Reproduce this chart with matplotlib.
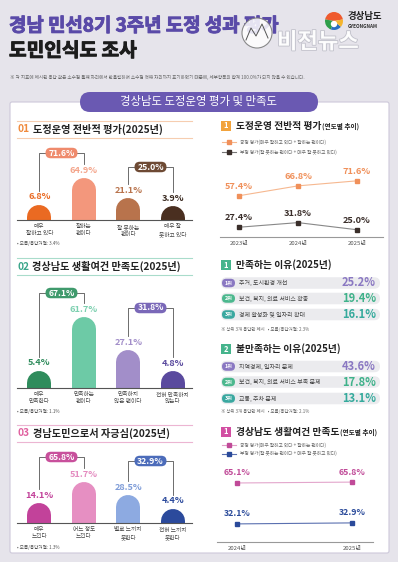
import matplotlib
matplotlib.use('Agg')
import matplotlib.pyplot as plt
from matplotlib.patches import FancyBboxPatch, Rectangle, Wedge, Circle
import matplotlib.patheffects as pe

plt.rcParams['font.family'] = ['Noto Sans CJK KR', 'DejaVu Sans']

# ---------------- data ----------------
eval_cats = ['매우\n잘하고 있다', '잘하는\n편이다', '잘 못하는\n편이다', '매우 잘\n못하고 있다']
eval_vals = [6.8, 64.9, 21.1, 3.9]
eval_groups = [71.6, 25.0]
eval_na = 3.4

life_cats = ['매우\n만족한다', '만족하는\n편이다', '만족하지\n않은 편이다', '전혀 만족하지\n않는다']
life_vals = [5.4, 61.7, 27.1, 4.8]
life_groups = [67.1, 31.8]
life_na = 1.1

pride_cats = ['매우\n느낀다', '어느 정도\n느낀다', '별로 느끼지\n못한다', '전혀 느끼지\n못한다']
pride_vals = [14.1, 51.7, 28.5, 4.4]
pride_groups = [65.8, 32.9]
pride_na = 1.3

trend_years = ['2023년', '2024년', '2025년']
trend_pos = [57.4, 66.8, 71.6]
trend_neg = [27.4, 31.8, 25.0]

life_years = ['2024년', '2025년']
life_pos = [65.1, 65.8]
life_neg = [32.1, 32.9]

sat_items = ['주거, 도시환경 개선', '보건, 복지, 의료 서비스 확충', '경제 활성화 및 일자리 확대']
sat_vals = [25.2, 19.4, 16.1]
sat_na = 2.3
dis_items = ['지역경제, 일자리 문제', '보건, 복지, 의료 서비스 부족 문제', '교통, 주차 문제']
dis_vals = [43.6, 17.8, 13.1]
dis_na = 2.1

# ---------------- figure ----------------
W, H = 398, 562
fig = plt.figure(figsize=(W / 100, H / 100), dpi=100)
fig.patch.set_facecolor('#e6e4eb')


def px_axes(x0, y0, x1, y1, z=1):
    ax = fig.add_axes([x0 / W, 1 - y1 / H, (x1 - x0) / W, (y1 - y0) / H])
    ax.set_zorder(z)
    ax.patch.set_alpha(0)
    return ax


bg = px_axes(0, 0, W, H, z=0)
bg.set_xlim(0, W); bg.set_ylim(H, 0); bg.axis('off')


def pill(ax, x0, yc, w, h, color, z=2, ec='none', lw=0, r=None):
    r = h / 2 if r is None else r
    ax.add_patch(FancyBboxPatch((x0, yc - h / 2), w, h,
                                boxstyle=f'round,pad=0,rounding_size={r}',
                                fc=color, ec=ec, lw=lw, zorder=z))


# title
bg.text(9, 26, '경남 민선8기 3주년 도정 성과 평가', fontsize=13.6, weight='bold',
        color='#5a4aa8', va='center',
        path_effects=[pe.withStroke(linewidth=0.7, foreground='#5a4aa8')])
bg.text(9, 51, '도민인식도 조사', fontsize=13.8, weight='bold', color='#1c1c1c', va='center',
        path_effects=[pe.withStroke(linewidth=0.7, foreground='#1c1c1c')])
bg.text(10, 77, '※ 각 지표에 제시된 응답 값은 소수점 둘째 자리에서 반올림하여 소수점 첫째 자리까지 표기하였기 때문에, '
        '세부항목의 합계 100.0%가 되지 않을 수 있습니다.', fontsize=3.3, color='#666', va='center')

# logo
lc = (334, 21)
bg.add_patch(Wedge(lc, 9, 190, 350, fc='#ef5a2e', zorder=3))
bg.add_patch(Wedge(lc, 9, 110, 190, fc='#2f9e4a', zorder=3))
bg.add_patch(Wedge(lc, 9, 40, 110, fc='#2a6fc0', zorder=3))
bg.add_patch(Wedge(lc, 9, 350, 40, fc='#f5b52e', zorder=3))
bg.add_patch(Circle((334, 24), 3.2, fc='white', zorder=4))
bg.text(348, 16, '경상남도', fontsize=6.8, weight='bold', color='#222', va='center')
bg.text(348, 27, 'GYEONGNAM', fontsize=3.4, weight='bold', color='#333', va='center')

# card and header pill
bg.add_patch(FancyBboxPatch((10, 102), 379, 451, boxstyle='round,pad=0,rounding_size=2',
                            fc='white', ec='#cdc9da', lw=0.8, zorder=1))
pill(bg, 80, 102, 238, 20, '#6a59b2', z=3)
bg.text(199, 102, '경상남도 도정운영 평가 및 만족도', fontsize=8.2, color='white',
        ha='center', va='center', zorder=4)

ov = px_axes(0, 0, W, H, z=10)
ov.set_xlim(0, W); ov.set_ylim(H, 0); ov.axis('off')

# watermark
ov.add_patch(Circle((257, 33), 15, fc='white', ec='#777', lw=0.8, alpha=0.85, zorder=5))
ov.plot([246, 251, 256, 262, 268], [40, 28, 36, 24, 38], color='#555', lw=0.7, zorder=6)
ov.text(318, 42, '비전뉴스', fontsize=16, weight='bold', color='white', ha='center', va='center',
        alpha=0.9, zorder=6, path_effects=[pe.withStroke(linewidth=1.2, foreground='#bdbdc7')])


def to_px(ax, x, y):
    d = ax.transData.transform((x, y))
    return ov.transData.inverted().transform(d)


def bar_section(top, base, k, num, numcol, linecol, title, cats, vals, groups,
                colors, lblcols, pillcols, levels, na):
    ov.plot([17, 192], [top, top], color=linecol, lw=0.8)
    ov.plot([17, 192], [top + 17, top + 17], color=linecol, lw=0.8)
    t = ov.text(17, top + 8.5, num, fontsize=7.3, weight='bold', color=numcol, va='center')
    ov.annotate(title, xy=(1, 0.5), xycoords=t, xytext=(2.5, 0), textcoords='offset points',
                fontsize=7.3, weight='bold', color='#222', va='center')
    hax = base - (top + 22)
    ax = px_axes(17, top + 22, 195, base, z=5)
    ax.set_xlim(-0.5, 3.5)
    ax.set_ylim(0, hax / k)
    for s in ax.spines.values():
        s.set_visible(False)
    ax.set_yticks([])
    ax.set_xticks(range(4))
    ax.set_xticklabels(cats, fontsize=4.1, color='#444', linespacing=1.35)
    ax.tick_params(length=0, pad=3.2)
    for i, v in enumerate(vals):
        ax.plot([i, i], [0, v], color=colors[i], lw=24 * 0.72, solid_capstyle='round',
                clip_on=True)
        ax.annotate(f'{v}%', (i, v), xytext=(0, 20 * 0.72), textcoords='offset points',
                    ha='center', va='center', fontsize=6.6, weight='bold', color=lblcols[i])
    ov.plot([17, 192], [base, base], color='#555', lw=0.8)
    for g, gv in enumerate(groups):
        a, b = 2 * g, 2 * g + 1
        xa, ya = to_px(ax, a, vals[a])
        xb, yb = to_px(ax, b, vals[b])
        yl = base - levels[g]
        ov.plot([xa, xa, xb, xb], [ya - 26, yl, yl, yb - 26], color='#555', lw=0.6, zorder=3)
        cx = (xa + xb) / 2
        pill(ov, cx - 16, yl, 32, 10.5, pillcols[g], z=4)
        ov.text(cx, yl, f'{gv}%', fontsize=6.2, weight='bold', color='white', ha='center',
                va='center', zorder=5)
    ov.text(17, base + 24, f'• 모름/응답거절: {na}%', fontsize=3.3, color='#555', va='center')


bar_section(121, 220, 0.46, '01', '#f08a3c', '#f6cdb0', '도정운영 전반적 평가(2025년)',
            eval_cats, eval_vals, eval_groups,
            ['#ea6a22', '#f3977c', '#b8734c', '#4a2f20'],
            ['#ea6a22', '#f4a48a', '#b8734c', '#3a2a20'],
            ['#ef8a6c', '#6e4a34'], [67, 53], eval_na)
bar_section(258, 388, 0.95, '02', '#3aa58a', '#a9dccb', '경상남도 생활여건 만족도(2025년)',
            life_cats, life_vals, life_groups,
            ['#2f8c5c', '#6dcaa6', '#a28ec9', '#5a4a9e'],
            ['#2f8c5c', '#7dd0b0', '#a28ec9', '#5a4a9e'],
            ['#3f9a6c', '#7a68b8'], [95, 80], life_na)
bar_section(425, 523, 0.56, '03', '#e0609f', '#ecb5d2', '경남도민으로서 자긍심(2025년)',
            pride_cats, pride_vals, pride_groups,
            ['#c2429a', '#e68fc2', '#8daae1', '#2b4a9c'],
            ['#c2429a', '#e48cc0', '#7e9cd8', '#2b4a9c'],
            ['#c8509c', '#4c6cba'], [66, 62], pride_na)


# ---------------- right column ----------------
def rhead(y, num, color, title, sub=None):
    ov.add_patch(Rectangle((221, y - 5), 10, 10, fc=color, ec='none'))
    ov.text(226, y, num, fontsize=5.5, weight='bold', color='white', ha='center', va='center')
    t = ov.text(236, y, title, fontsize=7, weight='bold', color='#222', va='center')
    if sub:
        ov.annotate(sub, xy=(1, 0.5), xycoords=t, xytext=(0.5, 0), textcoords='offset points',
                    fontsize=4.8, weight='bold', color='#222', va='center')


def legend_row(y, lcol, mcol, label):
    ov.plot([222, 236], [y, y], color=lcol, lw=0.8)
    ov.plot([229], [y], marker='s', ms=2.6, color=mcol)
    ov.text(240, y, label, fontsize=3.4, color='#666', va='center')


def style_trend(ax, years):
    for s in ['top', 'left', 'right']:
        ax.spines[s].set_visible(False)
    ax.spines['bottom'].set_color('#999')
    ax.spines['bottom'].set_linewidth(0.8)
    ax.set_yticks([])
    ax.set_xticks(range(len(years)))
    ax.set_xticklabels(years, fontsize=4.3, color='#555')
    ax.tick_params(length=0, pad=3)


# trend 1
rhead(126, '1', '#f2a33c', '도정운영 전반적 평가', '(연도별 추이)')
legend_row(142, '#f6b890', '#f0905a', '긍정 평가(매우 잘하고 있다 + 잘하는 편이다)')
legend_row(152, '#777', '#3a2e2a', '부정 평가(잘 못하는 편이다 + 매우 잘 못하고 있다)')
ax1 = px_axes(220, 165, 383, 237, z=5)
ax1.set_xlim(-0.322, 2.44)
ax1.set_ylim(18.1, 18.1 + 72 / 1.05)
xs = range(len(trend_years))
ax1.plot(xs, trend_pos, color='#f6b890', lw=0.8, marker='s', ms=3, mfc='#f0905a', mec='#f0905a')
ax1.plot(xs, trend_neg, color='#888', lw=0.8, marker='s', ms=3, mfc='#3a2e2a', mec='#3a2e2a')
for i, v in enumerate(trend_pos):
    ax1.annotate(f'{v}%', (i, v), xytext=(0, 6.8), textcoords='offset points', ha='center',
                 va='center', fontsize=6.6, weight='bold', color='#f0905a')
for i, v in enumerate(trend_neg):
    ax1.annotate(f'{v}%', (i, v), xytext=(0, 6.8), textcoords='offset points', ha='center',
                 va='center', fontsize=6.6, weight='bold', color='#3a2e2a')
style_trend(ax1, trend_years)


def reasons(ytitle, num, title, items, vals, rows, ynote, na):
    rhead(ytitle, num, '#45b48c', title)
    badge = ['#8a78c2', '#4cb88e', '#3aa8a0']
    vcol = ['#8a78c2', '#3fb28a', '#35aa9c']
    for j, (it, v) in enumerate(zip(items, vals)):
        y = rows[j]
        pill(ov, 221, y, 159, 11.5, '#ebebee', z=2)
        pill(ov, 222, y, 13, 8.5, badge[j], z=3)
        ov.text(228.5, y, f'{j + 1}위', fontsize=3.8, weight='bold', color='white',
                ha='center', va='center', zorder=4)
        ov.text(239, y, it, fontsize=4.3, color='#444', va='center', zorder=4)
        ov.text(376, y, f'{v}%', fontsize=8, weight='bold', color=vcol[j], ha='right',
                va='center', zorder=4)
    ov.text(221, ynote, f'※ 상위 3개 응답만 제시   • 모름/응답거절: {na}%', fontsize=3.2,
            color='#666', va='center')


reasons(265, '1', '만족하는 이유(2025년)', sat_items, sat_vals, [283, 298.5, 314.5], 329, sat_na)
reasons(349, '2', '불만족하는 이유(2025년)', dis_items, dis_vals, [366.5, 382, 398.5], 412, dis_na)

# trend 2
rhead(432, '1', '#d24fa2', '경상남도 생활여건 만족도', '(연도별 추이)')
legend_row(445, '#e0a0c8', '#c04a98', '긍정 평가(매우 잘하고 있다 + 잘하는 편이다)')
legend_row(453.5, '#5a70b0', '#2a4a9a', '부정 평가(잘 못하는 편이다 + 매우 잘 못하고 있다)')
ax2 = px_axes(217, 462, 373, 542, z=5)
ax2.set_xlim(-0.174, 1.183)
ax2.set_ylim(17.5, 17.5 + 80 / 1.24)
xs2 = range(len(life_years))
ax2.plot(xs2, life_pos, color='#e3a6cc', lw=0.8, marker='s', ms=3, mfc='#c04a98', mec='#c04a98')
ax2.plot(xs2, life_neg, color='#5a70b0', lw=0.8, marker='s', ms=3, mfc='#2a4a9a', mec='#2a4a9a')
for i, v in enumerate(life_pos):
    ax2.annotate(f'{v}%', (i, v), xytext=(0, 7.2), textcoords='offset points', ha='center',
                 va='center', fontsize=6.3, weight='bold', color='#c04a98')
for i, v in enumerate(life_neg):
    ax2.annotate(f'{v}%', (i, v), xytext=(0, 7.2), textcoords='offset points', ha='center',
                 va='center', fontsize=6.3, weight='bold', color='#2a4a9a')
style_trend(ax2, life_years)

fig.savefig('out.png', dpi=100, facecolor=fig.get_facecolor())
